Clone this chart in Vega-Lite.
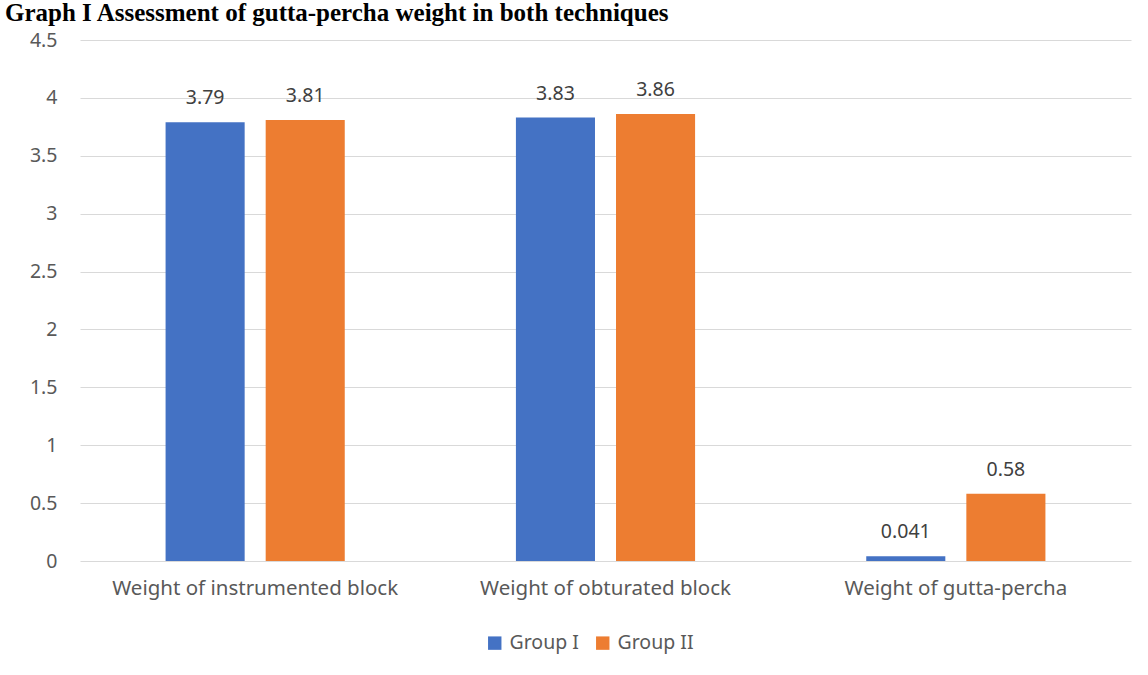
{
  "$schema": "https://vega.github.io/schema/vega-lite/v6.json",
  "width": 1051,
  "height": 521,
  "autosize": {"type": "none"},
  "padding": {"left": 80, "top": 40, "right": 17, "bottom": 114},
  "background": "white",
  "title": {
    "text": "Graph I Assessment of gutta-percha weight in both techniques",
    "font": "Liberation Serif",
    "fontSize": 25,
    "fontWeight": "bold",
    "color": "#000000",
    "anchor": "start",
    "frame": "group",
    "baseline": "top",
    "dx": -75,
    "dy": -4,
    "offset": 0
  },
  "data": {
    "values": [
      {"measure": "Weight of instrumented block", "group": "Group I", "value": 3.79, "label": "3.79"},
      {"measure": "Weight of instrumented block", "group": "Group II", "value": 3.81, "label": "3.81"},
      {"measure": "Weight of obturated block", "group": "Group I", "value": 3.83, "label": "3.83"},
      {"measure": "Weight of obturated block", "group": "Group II", "value": 3.86, "label": "3.86"},
      {"measure": "Weight of gutta-percha", "group": "Group I", "value": 0.041, "label": "0.041"},
      {"measure": "Weight of gutta-percha", "group": "Group II", "value": 0.58, "label": "0.58"}
    ]
  },
  "encoding": {
    "x": {
      "field": "measure",
      "type": "nominal",
      "sort": null,
      "scale": {"paddingInner": 0, "paddingOuter": 0},
      "axis": {
        "title": null,
        "labelAngle": 0,
        "domain": false,
        "ticks": false,
        "labelFont": "Noto Sans",
        "labelFontSize": 20.5,
        "labelColor": "#595959",
        "labelPadding": 17,
        "labelLimit": 0
      }
    },
    "xOffset": {
      "field": "group",
      "type": "nominal",
      "scale": {"paddingInner": 0.21, "paddingOuter": 0.855}
    },
    "y": {
      "field": "value",
      "type": "quantitative",
      "scale": {"domain": [0, 4.5]},
      "axis": {
        "title": null,
        "values": [0, 0.5, 1, 1.5, 2, 2.5, 3, 3.5, 4, 4.5],
        "format": "~g",
        "domain": false,
        "ticks": false,
        "grid": true,
        "gridColor": "#d9d9d9",
        "gridWidth": 1,
        "labelFont": "Noto Sans",
        "labelFontSize": 19.5,
        "labelColor": "#595959",
        "labelPadding": 23
      }
    }
  },
  "layer": [
    {
      "mark": {"type": "bar"},
      "encoding": {
        "color": {
          "field": "group",
          "type": "nominal",
          "scale": {"domain": ["Group I", "Group II"], "range": ["#4472C4", "#ED7D31"]},
          "legend": {
            "title": null,
            "orient": "none",
            "direction": "horizontal",
            "legendX": 405,
            "legendY": 593,
            "symbolType": "square",
            "symbolSize": 180,
            "symbolStrokeWidth": 0,
            "labelFont": "Noto Sans",
            "labelFontSize": 19.5,
            "labelColor": "#595959",
            "columnPadding": 14,
            "labelOffset": 5
          }
        }
      }
    },
    {
      "mark": {
        "type": "text",
        "dy": -24,
        "font": "Noto Sans",
        "fontSize": 19.5,
        "color": "#404040"
      },
      "encoding": {
        "text": {"field": "label"}
      }
    }
  ],
  "config": {
    "view": {"stroke": null}
  }
}
